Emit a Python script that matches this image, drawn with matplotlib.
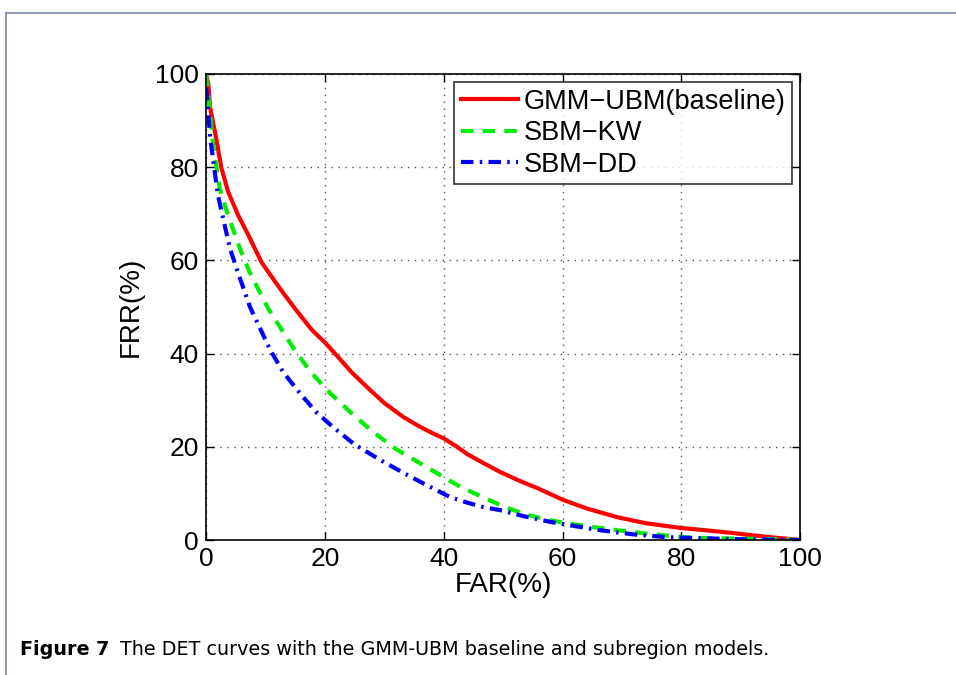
import matplotlib.pyplot as plt
from matplotlib.lines import Line2D

# DET curve points (FAR %, FRR %)
far_gmm = [0, 0.4, 0.7, 1.5, 2.6, 3.7, 5.4, 7.1, 9.3, 11.2, 13, 15, 17.8, 20, 22, 24.5, 27.6, 30, 33.2,
           36, 38, 40, 42, 44, 46.7, 49.5, 52.4, 56, 60.1, 64, 69.2, 74, 79.8, 84, 88.7, 92, 95, 100]
frr_gmm = [100, 97.6, 92.7, 87.6, 79.8, 74.8, 69.7, 65.5, 59.7, 56.2, 53, 49.6, 45.1, 42.4, 39.6, 36, 32.2, 29.4, 26.4,
           24.3, 23.0, 21.8, 20.2, 18.4, 16.5, 14.6, 12.9, 11, 8.6, 6.8, 4.9, 3.6, 2.6, 2.1, 1.5, 1, 0.6, 0]

far_kw = [0, 0.5, 1.2, 2.3, 3.7, 5.9, 7.4, 10.4, 14.6, 17.5, 20.9, 24.5, 28.1, 32, 36.5, 40, 42.8, 46.6,
          50, 54, 58, 61.8, 65, 69.2, 74, 80.3, 85, 90, 95, 100]
frr_kw = [100, 94, 84.8, 75.5, 69.7, 61.9, 57.3, 49.8, 41.4, 36.2, 31.5, 27.2, 23.2, 19.5, 16.1, 13.5, 11.4, 9.2,
          7.2, 5.4, 4.2, 3.4, 2.8, 2.1, 1.4, 0.6, 0.4, 0.3, 0.2, 0]

far_dd = [0, 0.2, 0.7, 2, 4, 5.4, 7.4, 10.8, 13, 15.8, 18.5, 21.4, 25, 29.3, 33.5, 37.7, 41.1, 44,
          46.6, 49.5, 53.5, 57.9, 62, 66.3, 72, 77.6, 83, 88.7, 94, 100]
frr_dd = [97, 94.8, 86.3, 74, 62.7, 57.3, 50, 40.8, 36, 31.5, 27.5, 24.2, 20.5, 17.2, 14.2, 11.4, 9.2, 8,
          7.1, 6.4, 5.1, 3.9, 3, 2.1, 1.2, 0.6, 0.4, 0.2, 0.1, 0]

ticks = [0, 20, 40, 60, 80, 100]

plt.rcParams['font.family'] = ['Liberation Sans', 'DejaVu Sans']

fig = plt.figure(figsize=(9.56, 6.75), dpi=100)
ax = fig.add_axes([0.2155, 0.2, 0.6215, 0.6904])

ax.plot(far_gmm, frr_gmm, color='#ff0000', lw=3, ls='-', label='GMM\u2212UBM(baseline)')
ax.plot(far_kw, frr_kw, color='#00ee00', lw=3, ls=(0, (3, 2.2)), label='SBM\u2212KW')
ax.plot(far_dd, frr_dd, color='#0000ff', lw=3, ls=(0, (3, 1.5, 0.6, 1.5)), label='SBM\u2212DD')

ax.set_xlim(0, 100)
ax.set_ylim(0, 100)
ax.set_xticks(ticks)
ax.set_yticks(ticks)
ax.tick_params(direction='in', top=True, right=True, labelsize=19, length=6, width=1, pad=5)
ax.grid(True, ls=(0, (1, 4)), color='#555555', lw=1)
for s in ax.spines.values():
    s.set_linewidth(1.2)

ax.set_xlabel('FAR(%)', fontsize=20, labelpad=1)
ax.set_ylabel('FRR(%)', fontsize=20, labelpad=8)

leg = ax.legend(loc='upper right', fontsize=19.5, frameon=True, fancybox=False, edgecolor='black',
                handlelength=2.1, handletextpad=0.2, borderpad=0.25, labelspacing=0.2,
                borderaxespad=0.3)
leg.get_frame().set_linewidth(1.2)

# page frame lines (top and left)
fig.add_artist(Line2D([0.006, 1.0], [0.981, 0.981], color='#7a8aa6', lw=1.2, transform=fig.transFigure))
fig.add_artist(Line2D([0.006, 0.006], [0.0, 0.981], color='#7a8aa6', lw=1.2, transform=fig.transFigure))

fig.text(0.021, 0.03, 'Figure 7', fontsize=13.8, fontweight='bold', family='DejaVu Sans')
fig.text(0.126, 0.03, 'The DET curves with the GMM-UBM baseline and subregion models.',
         fontsize=13.8, family='DejaVu Sans')

fig.savefig('out.png', dpi=100)
